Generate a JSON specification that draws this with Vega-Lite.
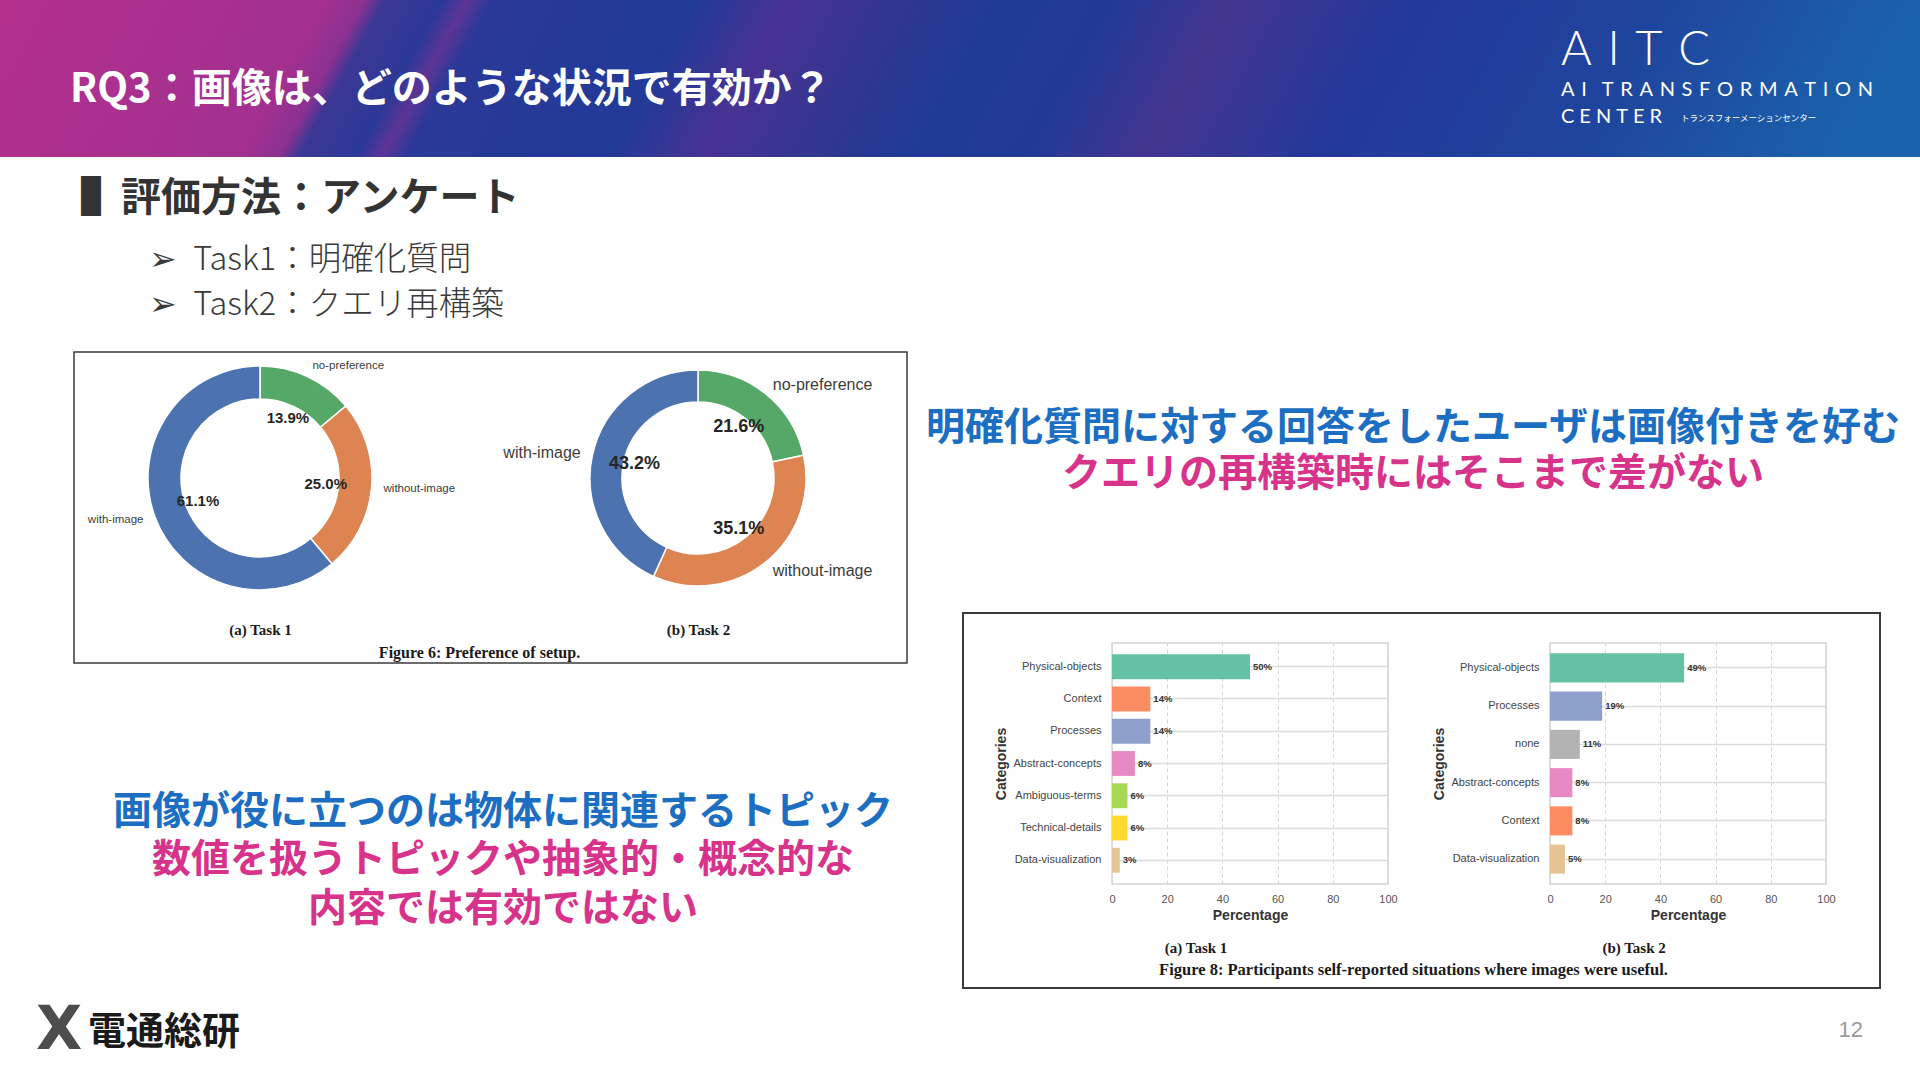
{
  "$schema": "https://vega.github.io/schema/vega-lite/v6.json",
  "padding": 0,
  "background": "#ffffff",
  "spacing": 0,
  "config": {
    "view": {"stroke": null},
    "concat": {"spacing": 0},
    "font": "Noto Sans CJK JP",
    "title": {"font": "Noto Sans CJK JP", "frame": "bounds"},
    "axis": {"labelFont": "Liberation Sans", "titleFont": "Liberation Sans"},
    "text": {"font": "Liberation Sans"}
  },
  "datasets": {
    "pref": [
      {"task": "Task 1", "cat": "no-preference", "pct": 0.139},
      {"task": "Task 1", "cat": "without-image", "pct": 0.25},
      {"task": "Task 1", "cat": "with-image", "pct": 0.611},
      {"task": "Task 2", "cat": "no-preference", "pct": 0.216},
      {"task": "Task 2", "cat": "without-image", "pct": 0.351},
      {"task": "Task 2", "cat": "with-image", "pct": 0.432}
    ],
    "useful1": [
      {"cat": "Physical-objects", "share": 0.5},
      {"cat": "Context", "share": 0.139},
      {"cat": "Processes", "share": 0.139},
      {"cat": "Abstract-concepts", "share": 0.083},
      {"cat": "Ambiguous-terms", "share": 0.056},
      {"cat": "Technical-details", "share": 0.056},
      {"cat": "Data-visualization", "share": 0.028}
    ],
    "useful2": [
      {"cat": "Physical-objects", "share": 0.486},
      {"cat": "Processes", "share": 0.189},
      {"cat": "none", "share": 0.108},
      {"cat": "Abstract-concepts", "share": 0.081},
      {"cat": "Context", "share": 0.081},
      {"cat": "Data-visualization", "share": 0.054}
    ],
    "none": [],
    "one": [{}]
  },
  "vconcat": [
    {
      "spacing": 0,
      "title": {"text": "トランスフォーメーションセンター", "orient": "top", "anchor": "start", "dx": 1681, "offset": -122, "fontSize": 8.5, "fontWeight": "normal", "color": "#ffffff"},
      "vconcat": [
        {
          "spacing": 0,
          "title": {
            "text": "A\u2004I\u2004T\u2004C",
            "subtitle": ["A\u2004I\u2003T\u2004R\u2004A\u2004N\u2004S\u2004F\u2004O\u2004R\u2004M\u2004A\u2004T\u2004I\u2004O\u2004N", "C\u2005E\u2005N\u2005T\u2005E\u2005R"],
            "orient": "top", "anchor": "start", "dx": 1561, "offset": -128,
            "font": "Lato", "fontSize": 47, "fontWeight": 300, "color": "#ffffff",
            "subtitleFont": "Lato", "subtitleFontSize": 20, "subtitleFontWeight": "normal", "subtitleColor": "#ffffff",
            "subtitlePadding": 5, "subtitleLineHeight": 27
          },
          "hconcat": [
            {
              "width": 1920, "height": 157,
              "data": {"name": "one"},
              "mark": {
                "type": "rect", "strokeWidth": 0,
                "fill": {
                  "gradient": "linear", "x1": 0, "y1": 0, "x2": 1, "y2": 0.045,
                  "stops": [
                    {"offset": 0, "color": "#b4308f"},
                    {"offset": 0.17, "color": "#a2308f"},
                    {"offset": 0.19, "color": "#8a3192"},
                    {"offset": 0.2, "color": "#3c3795"},
                    {"offset": 0.23, "color": "#2b3997"},
                    {"offset": 0.243, "color": "#5c3496"},
                    {"offset": 0.256, "color": "#2b3997"},
                    {"offset": 0.36, "color": "#213a98"},
                    {"offset": 0.41, "color": "#483293"},
                    {"offset": 0.47, "color": "#30378f"},
                    {"offset": 0.52, "color": "#1f3b97"},
                    {"offset": 0.58, "color": "#223a96"},
                    {"offset": 0.64, "color": "#43358f"},
                    {"offset": 0.73, "color": "#24399a"},
                    {"offset": 0.86, "color": "#1f449d"},
                    {"offset": 1, "color": "#1b62ad"}
                  ]
                }
              },
              "encoding": {},
              "title": {"text": "RQ3：画像は、どのような状況で有効か？", "orient": "top", "anchor": "start", "dx": 70, "offset": -110, "fontSize": 40, "fontWeight": "bold", "color": "#ffffff"}
            }
          ]
        }
      ]
    },
    {
      "spacing": 0,
      "hconcat": [
        {"width": 73, "height": 1, "data": {"name": "none"}, "mark": "text"},
        {
          "spacing": 0,
          "vconcat": [
            {
              "spacing": 0,
              "title": {
                "text": ["➢\u2002Task1：明確化質問", "➢\u2002Task2：クエリ再構築"],
                "orient": "top", "anchor": "start", "dx": 75, "offset": -164,
                "fontSize": 32.5, "fontWeight": 300, "color": "#3a3a3a", "lineHeight": 45
              },
              "vconcat": [
                {
                  "width": 849, "height": 194, "data": {"name": "none"}, "mark": "text",
                  "title": {
                    "text": "▌評価方法：アンケート",
                    "orient": "top", "anchor": "start", "dx": 7, "offset": -62,
                    "fontSize": 40, "fontWeight": "bold", "color": "#333333"
                  }
                }
              ]
            },
            {
              "width": 833, "height": 311,
              "view": {"stroke": "#3a3a3a", "strokeWidth": 1.5},
              "data": {"name": "pref"},
              "transform": [{"window": [{"op": "row_number", "as": "idx"}], "groupby": ["task"]}],
              "layer": [
                {
                  "transform": [{"filter": "datum.task === 'Task 1'"}],
                  "mark": {"type": "arc", "outerRadius": 112, "innerRadius": 79, "stroke": "#ffffff", "strokeWidth": 1.5},
                  "encoding": {
                    "x": {
                      "datum": "(a) Task 1", "type": "nominal",
                      "scale": {"type": "point", "domain": ["(a) Task 1", "(b) Task 2"], "range": [186, 624], "padding": 0},
                      "axis": {
                        "orient": "bottom", "offset": -43, "domain": false, "ticks": false, "tickSize": 0, "grid": false,
                        "labelAngle": 0, "labelPadding": 2, "labelFont": "Liberation Serif", "labelFontSize": 15, "labelFontWeight": "bold", "labelColor": "#1a1a1a",
                        "title": "Figure 6: Preference of setup.", "titleFont": "Liberation Serif", "titleFontSize": 16, "titleFontWeight": "bold", "titleColor": "#1a1a1a", "titlePadding": 7
                      }
                    },
                    "y": {"datum": "ring", "type": "nominal", "scale": {"type": "point", "domain": ["ring"], "align": 0.405}, "axis": null},
                    "theta": {"field": "pct", "type": "quantitative", "stack": "normalize"},
                    "color": {"field": "cat", "type": "nominal", "scale": {"domain": ["with-image", "without-image", "no-preference"], "range": ["#4c72b0", "#dd8452", "#55a868"]}, "legend": null},
                    "order": {"field": "idx", "type": "quantitative"}
                  }
                },
                {
                  "transform": [{"filter": "datum.task === 'Task 2'"}],
                  "mark": {"type": "arc", "outerRadius": 108, "innerRadius": 76, "stroke": "#ffffff", "strokeWidth": 1.5},
                  "encoding": {
                    "x": {"datum": "(b) Task 2", "type": "nominal"},
                    "y": {"datum": "ring", "type": "nominal"},
                    "theta": {"field": "pct", "type": "quantitative", "stack": "normalize"},
                    "color": {"field": "cat", "type": "nominal", "legend": null},
                    "order": {"field": "idx", "type": "quantitative"}
                  }
                },
                {
                  "transform": [{"filter": "datum.task === 'Task 1'"}],
                  "mark": {"type": "text", "radius": 66, "fontSize": 15, "fontWeight": "bold", "fill": "#262626", "baseline": "middle", "font": "Liberation Sans"},
                  "encoding": {
                    "x": {"datum": "(a) Task 1", "type": "nominal"},
                    "y": {"datum": "ring", "type": "nominal"},
                    "theta": {"field": "pct", "type": "quantitative", "stack": "normalize"},
                    "detail": {"field": "cat", "type": "nominal"},
                    "order": {"field": "idx", "type": "quantitative"},
                    "text": {"field": "pct", "type": "quantitative", "format": ".1%"}
                  }
                },
                {
                  "transform": [{"filter": "datum.task === 'Task 2'"}],
                  "mark": {"type": "text", "radius": 65, "fontSize": 18, "fontWeight": "bold", "fill": "#262626", "baseline": "middle", "font": "Liberation Sans"},
                  "encoding": {
                    "x": {"datum": "(b) Task 2", "type": "nominal"},
                    "y": {"datum": "ring", "type": "nominal"},
                    "theta": {"field": "pct", "type": "quantitative", "stack": "normalize"},
                    "detail": {"field": "cat", "type": "nominal"},
                    "order": {"field": "idx", "type": "quantitative"},
                    "text": {"field": "pct", "type": "quantitative", "format": ".1%"}
                  }
                },
                {
                  "transform": [{"filter": "datum.task === 'Task 1'"}],
                  "mark": {"type": "text", "radius": 124, "align": "left", "baseline": "middle", "fontSize": 11.5, "fill": "#3c3c3c", "font": "Liberation Sans"},
                  "encoding": {
                    "x": {"datum": "(a) Task 1", "type": "nominal"},
                    "y": {"datum": "ring", "type": "nominal"},
                    "theta": {"field": "pct", "type": "quantitative", "stack": "normalize"},
                    "detail": {"field": "cat", "type": "nominal"},
                    "order": {"field": "idx", "type": "quantitative"},
                    "text": {"condition": {"test": "datum.cat !== 'with-image'", "field": "cat", "type": "nominal"}, "value": ""}
                  }
                },
                {
                  "transform": [{"filter": "datum.task === 'Task 1'"}],
                  "mark": {"type": "text", "radius": 124, "align": "right", "baseline": "middle", "fontSize": 11.5, "fill": "#3c3c3c", "font": "Liberation Sans"},
                  "encoding": {
                    "x": {"datum": "(a) Task 1", "type": "nominal"},
                    "y": {"datum": "ring", "type": "nominal"},
                    "theta": {"field": "pct", "type": "quantitative", "stack": "normalize"},
                    "detail": {"field": "cat", "type": "nominal"},
                    "order": {"field": "idx", "type": "quantitative"},
                    "text": {"condition": {"test": "datum.cat === 'with-image'", "field": "cat", "type": "nominal"}, "value": ""}
                  }
                },
                {
                  "transform": [{"filter": "datum.task === 'Task 2'"}],
                  "mark": {"type": "text", "radius": 119, "align": "left", "baseline": "middle", "fontSize": 16, "fill": "#3c3c3c", "font": "Liberation Sans"},
                  "encoding": {
                    "x": {"datum": "(b) Task 2", "type": "nominal"},
                    "y": {"datum": "ring", "type": "nominal"},
                    "theta": {"field": "pct", "type": "quantitative", "stack": "normalize"},
                    "detail": {"field": "cat", "type": "nominal"},
                    "order": {"field": "idx", "type": "quantitative"},
                    "text": {"condition": {"test": "datum.cat !== 'with-image'", "field": "cat", "type": "nominal"}, "value": ""}
                  }
                },
                {
                  "transform": [{"filter": "datum.task === 'Task 2'"}],
                  "mark": {"type": "text", "radius": 120, "align": "right", "baseline": "middle", "fontSize": 16, "fill": "#3c3c3c", "font": "Liberation Sans"},
                  "encoding": {
                    "x": {"datum": "(b) Task 2", "type": "nominal"},
                    "y": {"datum": "ring", "type": "nominal"},
                    "theta": {"field": "pct", "type": "quantitative", "stack": "normalize"},
                    "detail": {"field": "cat", "type": "nominal"},
                    "order": {"field": "idx", "type": "quantitative"},
                    "text": {"condition": {"test": "datum.cat === 'with-image'", "field": "cat", "type": "nominal"}, "value": ""}
                  }
                }
              ]
            },
            {
              "width": 849, "height": 325.5, "data": {"name": "none"}, "mark": "text",
              "title": {
                "text": "画像が役に立つのは物体に関連するトピック",
                "subtitle": ["数値を扱うトピックや抽象的・概念的な", "内容では有効ではない"],
                "orient": "top", "anchor": "middle", "dx": 4.5, "offset": -265,
                "fontSize": 39, "fontWeight": "bold", "color": "#1b6ec2",
                "subtitleFont": "Noto Sans CJK JP", "subtitleFontSize": 39, "subtitleFontWeight": "bold", "subtitleColor": "#d8338b",
                "subtitlePadding": 9, "subtitleLineHeight": 49
              }
            }
          ]
        },
        {
          "spacing": 0,
          "vconcat": [
            {
              "width": 998, "height": 455, "data": {"name": "none"}, "mark": "text",
              "title": {
                "text": "明確化質問に対する回答をしたユーザは画像付きを好む",
                "subtitle": "クエリの再構築時にはそこまで差がない",
                "orient": "top", "anchor": "middle", "dx": -9, "offset": -337,
                "fontSize": 39, "fontWeight": "bold", "color": "#1b6ec2",
                "subtitleFont": "Noto Sans CJK JP", "subtitleFontSize": 39, "subtitleFontWeight": "bold", "subtitleColor": "#d8338b",
                "subtitlePadding": 7
              }
            },
            {
              "spacing": 0,
              "hconcat": [
                {"width": 39, "height": 1, "data": {"name": "none"}, "mark": "text"},
                {
                  "spacing": 0,
                  "vconcat": [
                    {"width": 919, "height": 2, "data": {"name": "one"}, "mark": {"type": "rect", "fill": "#3a3a3a", "strokeWidth": 0}, "encoding": {}},
                    {
                      "spacing": 0,
                      "hconcat": [
                        {"width": 2, "height": 373, "data": {"name": "one"}, "mark": {"type": "rect", "fill": "#3a3a3a", "strokeWidth": 0}, "encoding": {}},
                        {
                          "spacing": 0,
                          "vconcat": [
                            {"width": 915, "height": 28, "data": {"name": "none"}, "mark": "text"},
                            {
                              "spacing": 0, "bounds": "flush",
                              "title": {"text": "Figure 8: Participants self-reported situations where images were useful.", "orient": "bottom", "anchor": "middle", "dx": -8, "offset": 5, "font": "Liberation Serif", "fontSize": 16.5, "fontWeight": "bold", "color": "#1a1a1a"},
                              "hconcat": [
                                {"width": 148, "height": 241, "data": {"name": "none"}, "mark": "text"},
                                {
                                  "width": 276, "height": 241,
                                  "view": {"stroke": "#d4d4d4", "strokeWidth": 1.5},
                                  "data": {"name": "useful1"},
                                  "title": {"text": "(a) Task 1", "orient": "bottom", "anchor": "middle", "offset": 19, "font": "Liberation Serif", "fontSize": 15, "fontWeight": "bold", "color": "#1a1a1a"},
                                  "encoding": {
                                    "y": {
                                      "field": "cat", "type": "nominal", "sort": null,
                                      "scale": {"paddingInner": 0.23, "paddingOuter": 0.35},
                                      "axis": {"title": "Categories", "titleFontSize": 14, "titleFontWeight": "bold", "titleColor": "#333333", "titlePadding": 4, "labelFontSize": 11, "labelColor": "#444444", "labelPadding": 11, "ticks": false, "tickSize": 0, "domain": false, "grid": true, "gridColor": "#dcdcdc", "gridWidth": 1.5, "tickBand": "center", "bandPosition": 0.5}
                                    },
                                    "x": {
                                      "field": "share", "type": "quantitative",
                                      "scale": {"domain": [0, 1], "nice": false},
                                      "axis": {"title": "Percentage", "titleFontSize": 14, "titleFontWeight": "bold", "titleColor": "#333333", "titlePadding": 4, "values": [0, 0.2, 0.4, 0.6, 0.8, 1], "labelExpr": "format(datum.value * 100, 'd')", "labelFontSize": 11, "labelColor": "#555555", "labelPadding": 9, "labelFlush": false, "ticks": false, "tickSize": 0, "domain": false, "grid": true, "gridColor": "#d6d6d6", "gridDash": [4, 3], "gridWidth": 1}
                                    }
                                  },
                                  "layer": [
                                    {
                                      "mark": {"type": "bar"},
                                      "encoding": {
                                        "fill": {"field": "cat", "type": "nominal", "legend": null, "scale": {"domain": ["Physical-objects", "Context", "Processes", "Abstract-concepts", "Ambiguous-terms", "Technical-details", "Data-visualization", "none"], "range": ["#66c2a5", "#fc8d62", "#8da0cb", "#e78ac3", "#a6d854", "#ffd92f", "#e5c494", "#b3b3b3"]}}
                                      }
                                    },
                                    {
                                      "mark": {"type": "text", "align": "left", "baseline": "middle", "dx": 3, "fontSize": 9.5, "fontWeight": "bold", "fill": "#333333", "font": "Liberation Sans"},
                                      "encoding": {"text": {"field": "share", "type": "quantitative", "format": ".0%"}}
                                    }
                                  ]
                                },
                                {"width": 162, "height": 241, "data": {"name": "none"}, "mark": "text"},
                                {
                                  "width": 276, "height": 241,
                                  "view": {"stroke": "#d4d4d4", "strokeWidth": 1.5},
                                  "data": {"name": "useful2"},
                                  "title": {"text": "(b) Task 2", "orient": "bottom", "anchor": "middle", "offset": 19, "font": "Liberation Serif", "fontSize": 15, "fontWeight": "bold", "color": "#1a1a1a"},
                                  "encoding": {
                                    "y": {
                                      "field": "cat", "type": "nominal", "sort": null,
                                      "scale": {"paddingInner": 0.24, "paddingOuter": 0.27},
                                      "axis": {"title": "Categories", "titleFontSize": 14, "titleFontWeight": "bold", "titleColor": "#333333", "titlePadding": 4, "labelFontSize": 11, "labelColor": "#444444", "labelPadding": 11, "ticks": false, "tickSize": 0, "domain": false, "grid": true, "gridColor": "#dcdcdc", "gridWidth": 1.5, "tickBand": "center", "bandPosition": 0.5}
                                    },
                                    "x": {
                                      "field": "share", "type": "quantitative",
                                      "scale": {"domain": [0, 1], "nice": false},
                                      "axis": {"title": "Percentage", "titleFontSize": 14, "titleFontWeight": "bold", "titleColor": "#333333", "titlePadding": 4, "values": [0, 0.2, 0.4, 0.6, 0.8, 1], "labelExpr": "format(datum.value * 100, 'd')", "labelFontSize": 11, "labelColor": "#555555", "labelPadding": 9, "labelFlush": false, "ticks": false, "tickSize": 0, "domain": false, "grid": true, "gridColor": "#d6d6d6", "gridDash": [4, 3], "gridWidth": 1}
                                    }
                                  },
                                  "layer": [
                                    {
                                      "mark": {"type": "bar"},
                                      "encoding": {
                                        "fill": {"field": "cat", "type": "nominal", "legend": null, "scale": {"domain": ["Physical-objects", "Context", "Processes", "Abstract-concepts", "Ambiguous-terms", "Technical-details", "Data-visualization", "none"], "range": ["#66c2a5", "#fc8d62", "#8da0cb", "#e78ac3", "#a6d854", "#ffd92f", "#e5c494", "#b3b3b3"]}}
                                      }
                                    },
                                    {
                                      "mark": {"type": "text", "align": "left", "baseline": "middle", "dx": 3, "fontSize": 9.5, "fontWeight": "bold", "fill": "#333333", "font": "Liberation Sans"},
                                      "encoding": {"text": {"field": "share", "type": "quantitative", "format": ".0%"}}
                                    }
                                  ]
                                },
                                {"width": 53, "height": 241, "data": {"name": "none"}, "mark": "text"}
                              ]
                            }
                          ]
                        },
                        {"width": 2, "height": 373, "data": {"name": "one"}, "mark": {"type": "rect", "fill": "#3a3a3a", "strokeWidth": 0}, "encoding": {}}
                      ]
                    },
                    {"width": 919, "height": 2, "data": {"name": "one"}, "mark": {"type": "rect", "fill": "#3a3a3a", "strokeWidth": 0}, "encoding": {}}
                  ]
                }
              ]
            }
          ]
        }
      ]
    },
    {
      "spacing": 0,
      "title": {"text": "12", "orient": "top", "anchor": "end", "dx": -57, "offset": -52, "font": "Liberation Sans", "fontSize": 22, "fontWeight": "normal", "color": "#9a9a9a"},
      "vconcat": [
        {
          "spacing": 0,
          "title": {"text": "X", "orient": "top", "anchor": "start", "dx": 36, "offset": -72, "font": "DejaVu Sans", "fontSize": 60, "fontWeight": "bold", "color": "#4d4d4d"},
          "vconcat": [
            {
              "width": 1920, "height": 91,
              "data": {"name": "none"}, "mark": "text",
              "title": {"text": "電通総研", "orient": "top", "anchor": "start", "dx": 88, "offset": -62, "fontSize": 38, "fontWeight": "bold", "color": "#1a1a1a"}
            }
          ]
        }
      ]
    }
  ]
}
